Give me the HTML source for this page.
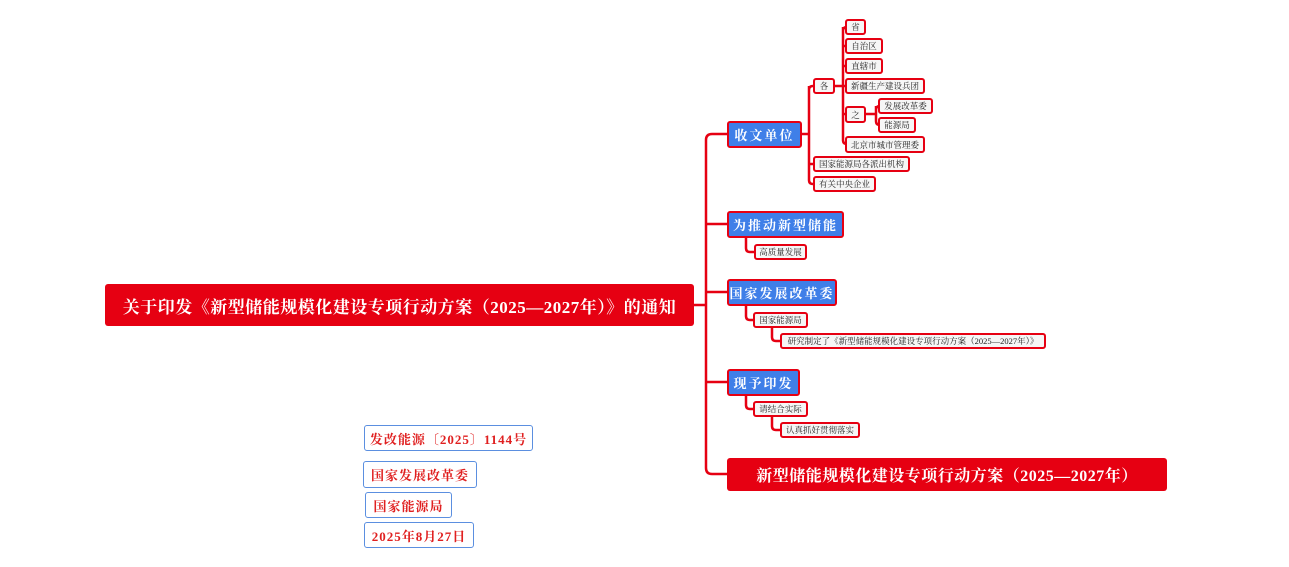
<!DOCTYPE html>
<html><head><meta charset="utf-8"><style>
body{margin:0;width:1289px;height:567px;background:#fff;position:relative;overflow:hidden;font-family:"Liberation Serif","Noto Serif CJK SC","Noto Sans CJK SC",serif;}
.b{position:absolute;box-sizing:border-box;display:flex;align-items:center;justify-content:center;white-space:nowrap;}
.root{background:#e60012;color:#fff;font-weight:bold;font-size:17px;border-radius:3px;letter-spacing:0.5px}
.l1{background:#3f7fe8;color:#fff;border:2px solid #e60012;border-radius:3px;font-size:13px;font-weight:bold;letter-spacing:2px}
.s{background:#f6f6f6;color:#222;border:2px solid #e60012;border-radius:3px;font-size:8.5px;letter-spacing:0}
.n{background:#fff;color:#e02020;border:1.5px solid #5b8fe0;border-radius:3px;font-size:13px;font-weight:bold;letter-spacing:1px}
svg{position:absolute;left:0;top:0}
</style></head><body>
<svg width="1289" height="567" fill="none" stroke="#e60012" stroke-width="2.5">
<path d="M694 305H706M706 140Q706 134 712 134H727M706 224H727M706 292H727M706 382H727M706 468Q706 474 712 474H727M706 140V468"/>
<path d="M802 134H809M809 90Q809 86 813 86M809 86V180Q809 184 813 184M809 164H813"/>
<path d="M835 86H843M843 31Q843 27 847 27M843 27V140Q843 144 847 144M843 46H845M843 66H845M843 86H845M843 114H845"/>
<path d="M866 114H876M876 110Q876 106 880 106M876 106V121Q876 125 880 125"/>
<path d="M746 238V248Q746 252 750 252H754"/>
<path d="M746 306V316Q746 320 750 320H753M772 328V337Q772 341 776 341H780"/>
<path d="M746 396V405Q746 409 750 409H753M772 416V426Q772 430 776 430H780"/>
</svg>
<div class="b root" style="left:105px;top:284px;width:589px;height:42px">关于印发《新型储能规模化建设专项行动方案（2025—2027年）》的通知</div>
<div class="b l1" style="left:727px;top:121px;width:75px;height:27px">收文单位</div>
<div class="b l1" style="left:727px;top:211px;width:117px;height:27px">为推动新型储能</div>
<div class="b l1" style="left:727px;top:279px;width:110px;height:27px">国家发展改革委</div>
<div class="b l1" style="left:727px;top:369px;width:73px;height:27px">现予印发</div>
<div class="b root" style="left:727px;top:458px;width:440px;height:33px;font-size:16px">新型储能规模化建设专项行动方案（2025—2027年）</div>
<div class="b s" style="left:813px;top:78px;width:22px;height:16px">各</div>
<div class="b s" style="left:813px;top:156px;width:97px;height:16px">国家能源局各派出机构</div>
<div class="b s" style="left:813px;top:176px;width:63px;height:16px">有关中央企业</div>
<div class="b s" style="left:845px;top:19px;width:21px;height:16px">省</div>
<div class="b s" style="left:845px;top:38px;width:38px;height:16px">自治区</div>
<div class="b s" style="left:845px;top:58px;width:38px;height:16px">直辖市</div>
<div class="b s" style="left:845px;top:78px;width:80px;height:16px">新疆生产建设兵团</div>
<div class="b s" style="left:845px;top:106px;width:21px;height:17px">之</div>
<div class="b s" style="left:845px;top:136px;width:80px;height:17px">北京市城市管理委</div>
<div class="b s" style="left:878px;top:98px;width:55px;height:16px">发展改革委</div>
<div class="b s" style="left:878px;top:117px;width:38px;height:16px">能源局</div>
<div class="b s" style="left:754px;top:244px;width:53px;height:16px">高质量发展</div>
<div class="b s" style="left:753px;top:312px;width:55px;height:16px">国家能源局</div>
<div class="b s" style="left:780px;top:333px;width:266px;height:16px">研究制定了《新型储能规模化建设专项行动方案（2025—2027年）》</div>
<div class="b s" style="left:753px;top:401px;width:55px;height:16px">请结合实际</div>
<div class="b s" style="left:780px;top:422px;width:80px;height:16px">认真抓好贯彻落实</div>
<div class="b n" style="left:364px;top:425px;width:169px;height:26px">发改能源〔2025〕1144号</div>
<div class="b n" style="left:363px;top:461px;width:114px;height:27px">国家发展改革委</div>
<div class="b n" style="left:365px;top:492px;width:87px;height:26px">国家能源局</div>
<div class="b n" style="left:364px;top:522px;width:110px;height:26px">2025年8月27日</div>
</body></html>
